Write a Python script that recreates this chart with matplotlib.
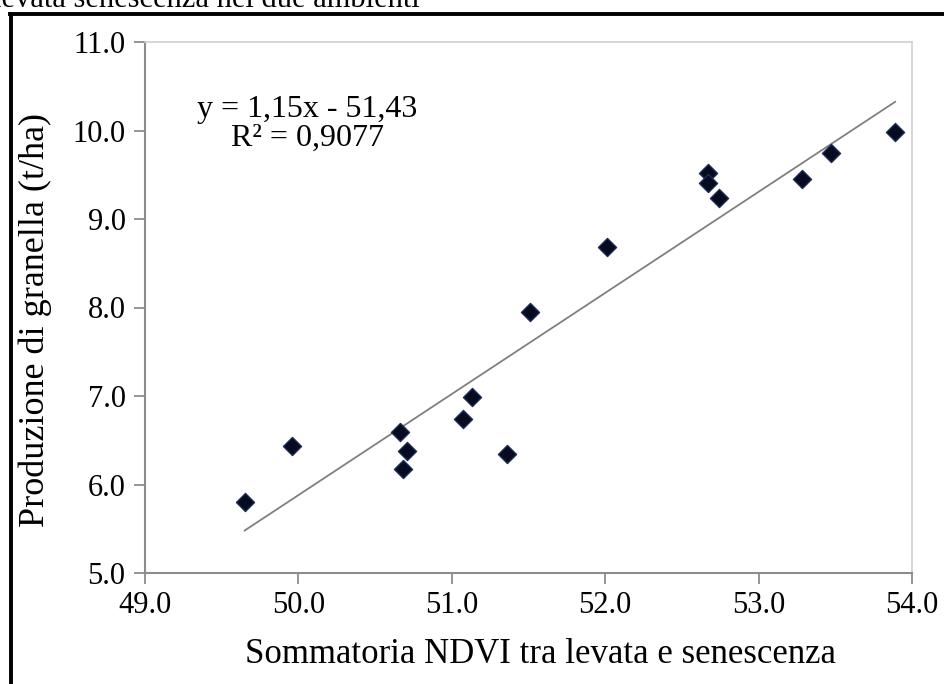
import numpy as np
import matplotlib
matplotlib.use('Agg')
import matplotlib.pyplot as plt
from matplotlib.lines import Line2D

# somma NDVI tra levata e senescenza vs produzione di granella
ndvi = [49.65, 49.96, 50.66, 50.71, 50.68, 51.07, 51.13, 51.36,
        51.51, 52.01, 52.67, 52.67, 52.74, 53.28, 53.47, 53.89]
resa = [5.80, 6.44, 6.59, 6.38, 6.18, 6.74, 6.99, 6.35,
        7.95, 8.68, 9.52, 9.41, 9.24, 9.45, 9.75, 9.98]

x_ticks = [49.0, 50.0, 51.0, 52.0, 53.0, 54.0]
y_ticks = [5.0, 6.0, 7.0, 8.0, 9.0, 10.0, 11.0]

plt.rcParams['font.family'] = ['Liberation Serif', 'DejaVu Serif']

fig = plt.figure(figsize=(9.44, 6.84), dpi=100)
fig.patch.set_facecolor('white')

# riga di testo tagliata in alto (pagina del documento)
fig.text(420 / 944, 1 - 7 / 684, 'levata senescenza nei due ambienti', ha='right', va='baseline',
         fontsize=22, color='black')
# cornice nera del riquadro
fig.add_artist(Line2D([10 / 944, 1.0], [1 - 14 / 684, 1 - 14 / 684], color='black', lw=2.8,
                      transform=fig.transFigure))
fig.add_artist(Line2D([11 / 944, 11 / 944], [0.0, 1 - 14 / 684], color='black', lw=2.8,
                      transform=fig.transFigure))

ax = fig.add_axes([145 / 944, 1 - 573 / 684, (912 - 145) / 944, (573 - 42) / 684])

ax.scatter(ndvi, resa, marker='D', s=85, facecolor='#060b1f', edgecolor='#1c2c55',
           linewidth=1.0, zorder=3)

# retta di regressione lineare
coef = np.polyfit(ndvi, resa, 1)
xl = np.array([min(ndvi), max(ndvi)])
ax.plot(xl, np.polyval(coef, xl), color='#808080', lw=1.3, zorder=2)

ax.text(50.06, 10.40, 'y = 1,15x - 51,43\nR² = 0,9077', ha='center', va='top',
        fontsize=23, linespacing=1.0)

ax.set_xlim(49, 54)
ax.set_ylim(5, 11)
ax.set_xticks(x_ticks)
ax.set_yticks(y_ticks)
ax.set_xticklabels(['%.1f' % v for v in x_ticks])
ax.set_yticklabels(['%.1f' % v for v in y_ticks])
ax.tick_params(axis='both', direction='out', length=8, width=1.3, color='#8c8c8c',
               labelsize=22)
ax.tick_params(axis='y', pad=6)
ax.tick_params(axis='x', pad=5)

for side in ['left', 'bottom']:
    ax.spines[side].set_color('#8c8c8c')
    ax.spines[side].set_linewidth(1.5)
for side in ['top', 'right']:
    ax.spines[side].set_color('#d0d0d0')
    ax.spines[side].set_linewidth(1.2)

ax.set_xlabel('Sommatoria NDVI tra levata e senescenza', fontsize=25, va='center')
ax.xaxis.set_label_coords(0.516, -0.154)
ax.set_ylabel('Produzione di granella (t/ha)', fontsize=26, va='center')
ax.yaxis.set_label_coords(-0.143, 0.476)

fig.savefig('out.png', dpi=100, facecolor='white')
